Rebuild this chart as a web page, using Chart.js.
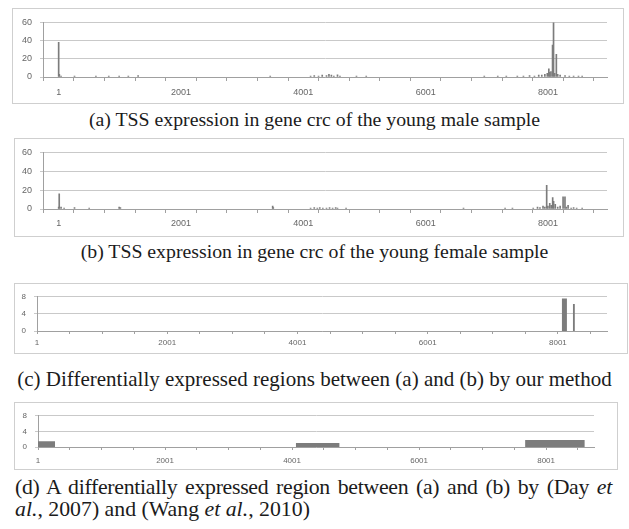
<!DOCTYPE html>
<html>
<head>
<meta charset="utf-8">
<title>TSS expression in gene crc</title>
<script src="https://cdn.jsdelivr.net/npm/chart.js@4.4.1/dist/chart.umd.min.js"></script>
<style>
  body { margin:0; background:#fff; width:629px; height:529px; position:relative; overflow:hidden; }
  .box { position:absolute; border:1px solid #cfcfcf; box-sizing:border-box; background:#fff; }
  .box canvas { position:absolute; left:0; top:0; }
  .cap { position:absolute; font-family:"Liberation Serif","DejaVu Serif",serif;
         line-height:22px; color:#1b1b1b; white-space:nowrap; }
  .center { left:0; width:629px; text-align:center; }
  .just { left:15px; width:597px; text-align:justify; text-align-last:justify; letter-spacing:-0.3px; }
</style>
</head>
<body>

<div class="box" style="left:12px;top:8px;width:612px;height:96px"><canvas id="chartMale" width="610" height="94"></canvas></div>
<div class="cap center" style="top:108px;font-size:19.8px">(a) TSS expression in gene crc of the young male sample</div>

<div class="box" style="left:14px;top:138px;width:610px;height:99px"><canvas id="chartFemale" width="608" height="97"></canvas></div>
<div class="cap center" style="top:240px;font-size:19.8px">(b) TSS expression in gene crc of the young female sample</div>

<div class="box" style="left:14px;top:283px;width:614px;height:71px"><canvas id="chartOurs" width="612" height="69"></canvas></div>
<div class="cap center" style="top:368px;font-size:21px">(c) Differentially expressed regions between (a) and (b) by our method</div>

<div class="box" style="left:14px;top:402px;width:604px;height:68px"><canvas id="chartDay" width="602" height="66"></canvas></div>
<div class="cap just" style="top:476px;font-size:21.8px">(d) A differentially expressed region between (a) and (b) by (Day <i>et</i></div>
<div class="cap" style="left:15px;top:498px;font-size:21.8px"><i>al.</i>, 2007) and (Wang <i>et al.</i>, 2010)</div>

<script>
/* ========== DADOS ========== */

// eixo x: posicoes no gene crc
const xTickSites  = [1, 2001, 4001, 6001, 8001];
const xTickLabels = ['1', '2001', '4001', '6001', '8001'];
const xMinorTicks = [1, 501, 1001, 1501, 2001, 2501, 3001, 3501, 4001, 4501,
                     5001, 5501, 6001, 6501, 7001, 7501, 8001, 8501];

const tssYTicks  = [0, 20, 40, 60];
const diffYTicks = [0, 4, 8];

// (a) amostra masculina jovem
const maleSites  = [1, 12, 40, 260, 610, 820, 990, 1140, 1300, 3460,
                    4120, 4180, 4250, 4310, 4380, 4420, 4460, 4500, 4560, 4600,
                    4870, 5030, 6960, 7180, 7320, 7500, 7600, 7700, 7780, 7850,
                    7900, 7950, 7990, 8015, 8030, 8050, 8076, 8092, 8110, 8138,
                    8160, 8200, 8280, 8350, 8420, 8500, 8560];
const maleCounts = [38, 3, 1, 1, 1, 1, 1, 1, 1.5, 1,
                    1, 1.5, 1, 2, 1.5, 3, 2, 1, 2.5, 1,
                    1, 1, 1, 1, 1, 1, 1, 1.5, 1, 2,
                    2, 3, 4, 9, 5, 6, 35, 60, 4, 25,
                    3, 2, 1.5, 1, 1, 1, 1];

// (b) amostra feminina jovem
const femaleSites  = [1, 10, 40, 90, 260, 500, 990, 1010, 3500, 3510,
                      4120, 4180, 4230, 4270, 4320, 4380, 4430, 4480, 4530, 4560,
                      4700, 6620, 7300, 7420, 7760, 7830, 7870, 7920, 7950, 7980,
                      8000, 8030, 8055, 8078, 8093, 8120, 8160, 8200, 8248, 8279,
                      8300, 8330, 8380, 8420, 8470, 8560];
const femaleCounts = [2, 16, 2, 1, 1.5, 1, 2, 1.5, 3, 1.5,
                      1, 1.5, 1, 1.5, 1, 1, 1.5, 1, 1.5, 1,
                      1, 1, 1, 1, 1, 2, 1.5, 3, 2, 25,
                      3, 6, 4, 12, 8, 5, 2, 3, 13, 13,
                      2, 4, 1, 1.5, 1, 1];

// (c) regioes pelo nosso metodo
const ourStarts = [8060, 8230];
const ourEnds   = [8140, 8262];
const ourScores = [7.6, 6.3];

// (d) regioes por Day et al. / Wang et al.
const dayStarts = [1, 4060, 7670];
const dayEnds   = [270, 4750, 8610];
const dayScores = [1.5, 1.0, 1.8];

/* ========== HELPERS ========== */

const GRAY_BAR = '#7c7c7c';
const tickFont = size => ({ family: 'Arial, "Liberation Sans", sans-serif', size: size });

function xScale(xMax, opts) {
  return {
    type: 'linear', min: 1, max: xMax,
    afterBuildTicks: s => { s.ticks = xMinorTicks.map(v => ({ value: v })); },
    afterFit: s => { s.height = opts.xh; },
    ticks: {
      autoSkip: false, maxRotation: 0, padding: opts.xpad,
      font: tickFont(opts.fs), color: '#666',
      callback: v => { const i = xTickSites.indexOf(v); return i >= 0 ? xTickLabels[i] : ''; }
    },
    grid: { drawOnChartArea: false, tickLength: opts.tick, color: '#a0a0a0' },
    border: { color: '#a0a0a0' }
  };
}

function yScale(yTicks, opts) {
  return {
    min: yTicks[0], max: yTicks[yTicks.length - 1],
    afterBuildTicks: s => { s.ticks = yTicks.map(v => ({ value: v })); },
    afterFit: s => { s.width = opts.yw; },
    ticks: { padding: opts.ypad, font: tickFont(opts.fs), color: '#666' },
    grid: { color: '#c9c9c9', tickLength: 3 },
    border: { color: '#a0a0a0' }
  };
}

function baseOptions(xMax, yTicks, opts) {
  return {
    responsive: false, animation: false,
    layout: { padding: opts.pad },
    plugins: { legend: { display: false }, tooltip: { enabled: false } },
    scales: { x: xScale(xMax, opts), y: yScale(yTicks, opts) }
  };
}

/* ========== CHARTS ========== */

function spikeChart(id, sites, counts, opts) {
  return new Chart(document.getElementById(id), {
    type: 'bar',
    data: {
      datasets: [{
        data: sites.map((s, i) => ({ x: s, y: counts[i] })),
        backgroundColor: GRAY_BAR,
        barThickness: 1
      }]
    },
    options: baseOptions(8710, tssYTicks, opts)
  });
}

function regionChart(id, starts, ends, scores, opts) {
  return new Chart(document.getElementById(id), {
    type: 'line',
    data: {
      datasets: starts.map((s, i) => ({
        data: [{ x: s, y: scores[i] }, { x: ends[i], y: scores[i] }],
        fill: 'origin',
        backgroundColor: GRAY_BAR,
        borderWidth: 0,
        pointRadius: 0
      }))
    },
    options: baseOptions(8755, diffYTicks, opts)
  });
}

const chartMale = spikeChart('chartMale', maleSites, maleCounts,
  { pad: { top: 10, right: 16, bottom: 6, left: 0 }, yw: 30, xh: 20, xpad: 6, ypad: 8, tick: 4, fs: 9 });

const chartFemale = spikeChart('chartFemale', femaleSites, femaleCounts,
  { pad: { top: 12, right: 16, bottom: 7, left: 0 }, yw: 28, xh: 20, xpad: 5, ypad: 8, tick: 4, fs: 9 });

const chartOurs = regionChart('chartOurs', ourStarts, ourEnds, ourScores,
  { pad: { top: 9, right: 20, bottom: 6, left: 0 }, yw: 22, xh: 16, xpad: 4, ypad: 8, tick: 3, fs: 8 });

const chartDay = regionChart('chartDay', dayStarts, dayEnds, dayScores,
  { pad: { top: 8, right: 23, bottom: 6, left: 0 }, yw: 23, xh: 16, xpad: 6, ypad: 8, tick: 3, fs: 8 });
</script>
</body>
</html>
